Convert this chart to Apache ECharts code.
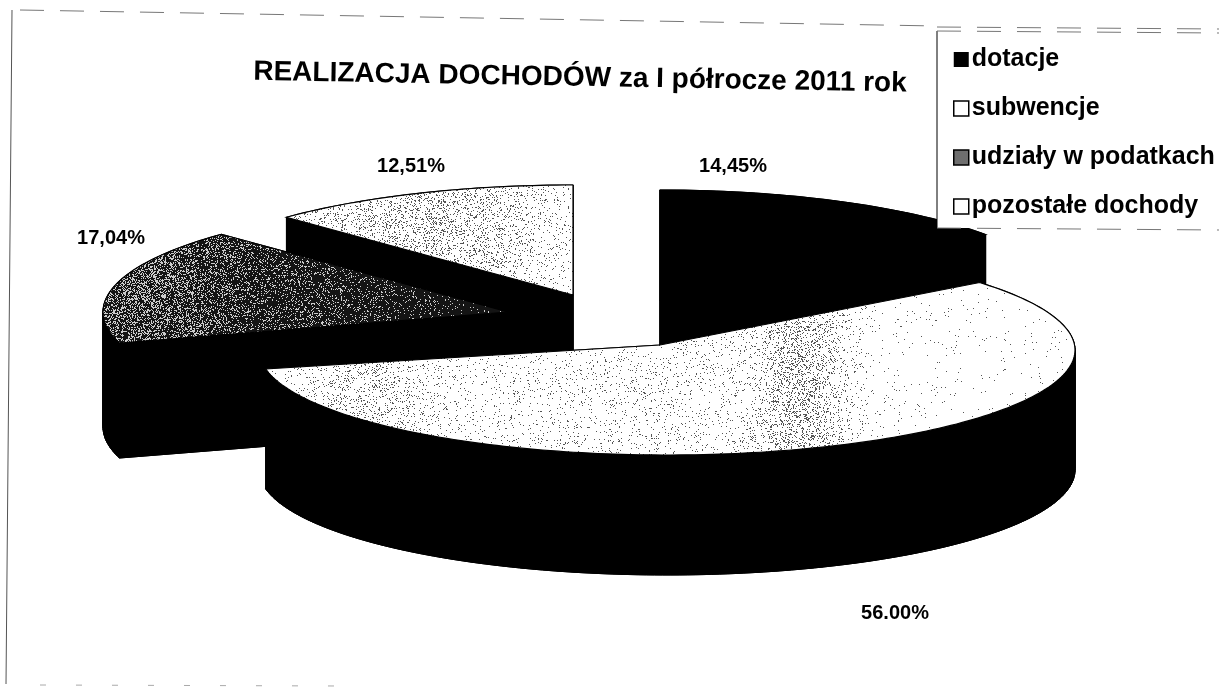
<!DOCTYPE html>
<html><head><meta charset="utf-8">
<style>html,body{margin:0;padding:0;background:#fff}#c{width:1219px;height:687px}</style>
<script src="https://cdn.jsdelivr.net/npm/echarts@6/dist/echarts.min.js"></script>
</head><body><div id="c"></div>
<script>
const categories = ['dotacje','subwencje','udziały w podatkach','pozostałe dochody'];
const values = [14.45,56.00,17.04,12.51];
const labelTexts = ['14,45%','56.00%','17,04%','12,51%'];
const titleText = 'REALIZACJA DOCHODÓW za I półrocze 2011 rok';

// layout only: projected geometry of each exploded slice
const centers=[[660,300],[667,350],[508,312],[573,295]];
const apexes=[[660,300],[660,345],[508,312],[573,295]];
const radiiX=[405,408,405,405];
const radiiY=[110,105,110,110];
const depths=[115,120,115,115];
const skewDeg=[[0,1.5],[-2,6],[0,0],[0,0]];
const labelPos=[[733,166],[895,613],[111,238],[411,166]];
const drawOrder=[3,0,2,1];

const W=1219,H=687;
function gauss(v,m,s){return Math.exp(-(v-m)*(v-m)/(2*s*s));}
function stipple(base,dot,density){
  const cv=document.createElement('canvas');cv.width=W;cv.height=H;
  const g=cv.getContext('2d');g.fillStyle=base;g.fillRect(0,0,W,H);g.fillStyle=dot;
  let s=12345;
  for(let y=0;y<H;y++)for(let x=0;x<W;x++){
    s=(s*1664525+1013904223)>>>0;
    if((s>>>8)/16777216<density(x,y))g.fillRect(x,y,1,1);
  }
  return {image:cv,repeat:'no-repeat'};
}
const fills=[
  '#000',
  stipple('#fff','#555',(x,y)=>.008+.20*gauss(x,800,28)+.12*gauss(x,365,45)+.05*gauss(x,620,130)),
  stipple('#141414','#ccc',(x,y)=>.02+.30*gauss(x,130,70)+.14*gauss(x,300,110)),
  stipple('#fff','#555',(x,y)=>.02+.16*gauss(x,420,90))
];
const legendColors=['#000','#fff','#6e6e6e','#fff'];

const cum=[];values.reduce((a,v,i)=>(cum[i]=a,a+v),0);
const total=values.reduce((a,b)=>a+b,0);
const rad=Math.PI/180;

function slice(i){
  return function(params,api){
    const v=api.value(0);
    const a0=cum[i]/total*2*Math.PI+skewDeg[i][0]*rad,a1=cum[i]/total*2*Math.PI+v/total*2*Math.PI+skewDeg[i][1]*rad;
    const [cx,cy]=centers[i],RX=radiiX[i],RY=radiiY[i],D=depths[i];
    const n=Math.max(16,Math.round((a1-a0)*50));
    const top=[],bot=[];
    for(let k=0;k<=n;k++){
      const t=a0+(a1-a0)*k/n,x=cx+RX*Math.sin(t),y=cy-RY*Math.cos(t);
      top.push([x,y]);bot.push([x,y+D]);
    }
    const black={fill:'#000',stroke:'#000',lineWidth:1};
    const ap=apexes[i],apB=[ap[0],ap[1]+D];
    const poly=(pts,style)=>({type:'polygon',shape:{points:pts},style});
    const kids=[poly([apB].concat(bot),black),poly([ap,top[0],bot[0],apB],black),poly([ap,top[n],bot[n],apB],black)];
    for(let k=0;k<n;k++)kids.push(poly([top[k],top[k+1],bot[k+1],bot[k]],black));
    kids.push(poly([ap].concat(top),{fill:fills[i],stroke:'#000',lineWidth:1.2}));
    return {type:'group',children:kids};
  };
}
function labels(params,api){
  return {type:'group',children:labelTexts.map((t,i)=>({type:'text',style:{
    x:labelPos[i][0],y:labelPos[i][1],text:t,fill:'#000',align:'center',verticalAlign:'middle',
    font:'bold 20px "Liberation Sans"'}}))};
}
const series=drawOrder.map(i=>({
  type:'custom',name:categories[i],coordinateSystem:'none',z:2,silent:true,
  renderItem:slice(i),data:[[values[i]]],itemStyle:{color:legendColors[i]},animation:false
}));
series.push({type:'custom',name:'labels',coordinateSystem:'none',z:3,silent:true,renderItem:labels,data:[[0]],animation:false});

const dash=(x1,y1,x2,y2,c,d)=>({type:'line',z:6,silent:true,shape:{x1,y1,x2,y2},style:{stroke:c||'#777',lineWidth:1,lineDash:d||[24,16]}});
const chart=echarts.init(document.getElementById('c'));
chart.setOption({
  backgroundColor:'#fff',animation:false,
  legend:{data:categories.map((n,i)=>({name:n,itemStyle:{color:legendColors[i],borderColor:'#000',borderWidth:i==0?0:1.5}})),
    orient:'vertical',left:948,top:42,icon:'rect',itemWidth:15,itemHeight:15,itemGap:24,selectedMode:false,z:10,
    textStyle:{fontFamily:'Liberation Sans',fontWeight:'bold',fontSize:25,color:'#000',padding:[0,0,0,-2]}},
  graphic:[
    {type:'rect',z:5,silent:true,shape:{x:937,y:31,width:290,height:197},style:{fill:'#fff',stroke:null}},
    dash(937,31,937,228,'#000',[]),
    dash(937,31,1219,33),
    dash(937,27,1219,29),
    dash(937,228,1219,230),
    dash(20,10,937,26),
    dash(12,10,6,684,'#555',[]),
    dash(40,685,340,686,'#aaa',[6,30]),
    {type:'text',z:6,silent:true,x:580,y:78,rotation:-0.018,style:{text:titleText,fill:'#000',align:'center',verticalAlign:'middle',
      font:'bold 28px "Liberation Sans"'}}
  ],
  series
});
</script></body></html>
